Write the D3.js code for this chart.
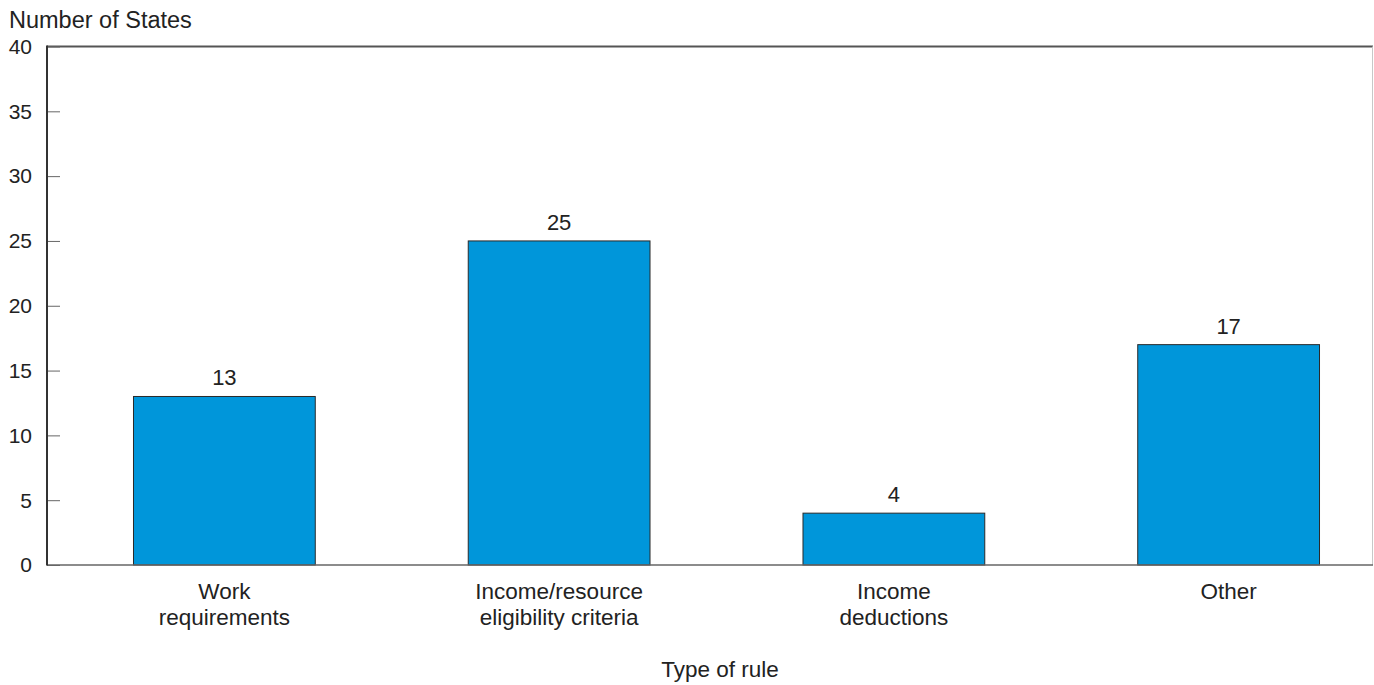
<!DOCTYPE html>
<html>
<head>
<meta charset="utf-8">
<script src="https://cdn.jsdelivr.net/npm/d3@7"></script>
<style>
  html, body { margin: 0; padding: 0; background: #fff; }
  svg { display: block; }
  text { font-family: "Liberation Sans", Arial, Helvetica, sans-serif; fill: #222; }
</style>
</head>
<body>
<svg id="chart" width="1374" height="685"></svg>
<script>
// Number of States by type of rule
const categories = [
  ["Work", "requirements"],
  ["Income/resource", "eligibility criteria"],
  ["Income", "deductions"],
  ["Other"]
];
const values = [13, 25, 4, 17];
const yTicks = [0, 5, 10, 15, 20, 25, 30, 35, 40];
const yTitle = "Number of States";
const xTitle = "Type of rule";

const svg = d3.select("#chart");
const plot = { left: 47, top: 46.5, right: 1373, bottom: 565 };

const keys = categories.map((c, i) => i);
const x = d3.scaleBand()
  .domain(keys)
  .range([57, 1396])
  .paddingInner(0.457)
  .paddingOuter(0.2285);

const y = d3.scaleLinear()
  .domain([0, 40])
  .range([plot.bottom, plot.top]);

// Frame: top and right borders
svg.append("line")
  .attr("x1", plot.left).attr("x2", plot.right)
  .attr("y1", plot.top).attr("y2", plot.top)
  .attr("stroke", "#555").attr("stroke-width", 2);
svg.append("line")
  .attr("x1", plot.right - 0.5).attr("x2", plot.right - 0.5)
  .attr("y1", plot.top).attr("y2", plot.bottom)
  .attr("stroke", "#c8c8c8").attr("stroke-width", 1);

// Bars
svg.append("g").selectAll("rect")
  .data(values)
  .join("rect")
  .attr("x", (d, i) => x(i))
  .attr("width", x.bandwidth())
  .attr("y", d => y(d))
  .attr("height", d => y(0) - y(d))
  .attr("fill", "#0096da")
  .attr("stroke", "#2a2a2a")
  .attr("stroke-width", 1);

// Value labels
svg.append("g").selectAll("text")
  .data(values)
  .join("text")
  .attr("x", (d, i) => x(i) + x.bandwidth() / 2)
  .attr("y", d => y(d) - 11)
  .attr("text-anchor", "middle")
  .attr("font-size", 22)
  .text(d => d);

// Bottom axis line
svg.append("line")
  .attr("x1", plot.left).attr("x2", plot.right)
  .attr("y1", plot.bottom).attr("y2", plot.bottom)
  .attr("stroke", "#666").attr("stroke-width", 1.5);

// Left axis with inward ticks
const yAxis = d3.axisRight(y)
  .tickValues(yTicks)
  .tickSize(13)
  .tickFormat("");
const gy = svg.append("g")
  .attr("transform", `translate(${plot.left},0)`)
  .call(yAxis);
gy.select(".domain").remove();
gy.selectAll(".tick line").attr("stroke", "#666").attr("stroke-width", 1);
svg.append("line")
  .attr("x1", plot.left).attr("x2", plot.left)
  .attr("y1", plot.top - 1).attr("y2", plot.bottom + 0.5)
  .attr("stroke", "#333").attr("stroke-width", 2);

// Y tick labels
svg.append("g").selectAll("text")
  .data(yTicks)
  .join("text")
  .attr("x", 32)
  .attr("y", d => y(d))
  .attr("dy", "0.35em")
  .attr("text-anchor", "end")
  .attr("font-size", 21)
  .text(d => d);

// Category labels
const cat = svg.append("g").selectAll("text")
  .data(categories)
  .join("text")
  .attr("x", (d, i) => x(i) + x.bandwidth() / 2)
  .attr("y", 599)
  .attr("text-anchor", "middle")
  .attr("font-size", 22.5);
cat.selectAll("tspan")
  .data(d => d)
  .join("tspan")
  .attr("x", function () { return this.parentNode.getAttribute("x"); })
  .attr("dy", (d, i) => i === 0 ? 0 : 26)
  .text(d => d);

// Axis titles
svg.append("text")
  .attr("x", 9).attr("y", 28)
  .attr("font-size", 23.5)
  .text(yTitle);
svg.append("text")
  .attr("x", 720).attr("y", 677)
  .attr("text-anchor", "middle")
  .attr("font-size", 22.5)
  .text(xTitle);
</script>
</body>
</html>
